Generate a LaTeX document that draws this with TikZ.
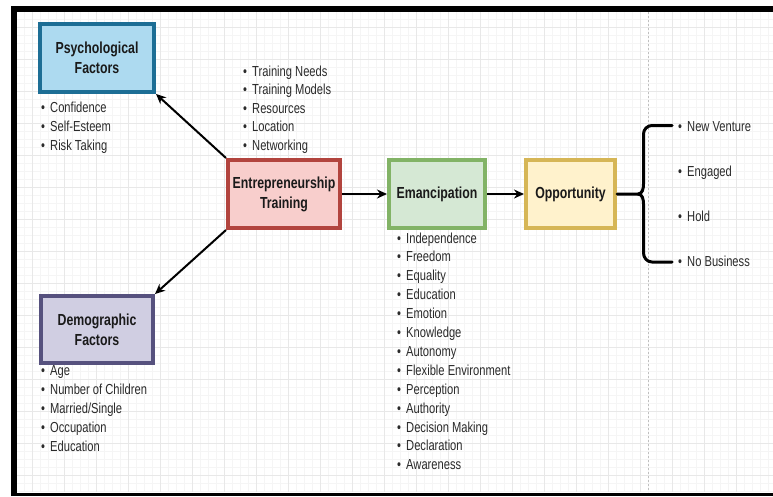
\documentclass[tikz,border=0pt]{standalone}
\usepackage{fontspec}
\setmainfont{Liberation Sans}[FakeStretch=0.77]
\usetikzlibrary{arrows.meta}
\definecolor{txt}{HTML}{2A2A2A}
\definecolor{lbl}{HTML}{1A1A1A}
\definecolor{psyD}{HTML}{1D6E95}\definecolor{psyF}{HTML}{ADDAF0}
\definecolor{demD}{HTML}{56517E}\definecolor{demF}{HTML}{D0CEE2}
\definecolor{entD}{HTML}{B2443E}\definecolor{entF}{HTML}{F8CECC}
\definecolor{emaD}{HTML}{82B366}\definecolor{emaF}{HTML}{D5E8D4}
\definecolor{oppD}{HTML}{D6B656}\definecolor{oppF}{HTML}{FFF2CC}
\tikzset{
  boxnode/.style={line width=4pt, align=center, inner sep=0pt, text=lbl,
    font=\fontsize{16}{20}\selectfont\bfseries},
  listitem/.style={anchor=base west, inner sep=0pt, text=txt, font=\fontsize{14.5}{18}\selectfont},
  conn/.style={line width=2pt, black, -{Stealth[length=10pt,width=9pt]}},
  bracepath/.style={line width=3pt, black, line cap=round, line join=round},
  minorgrid/.style={line width=0.4pt, black!4},
  majorgrid/.style={line width=0.8pt, black!9},
}
\newcommand{\blt}[1]{\makebox[9pt][l]{•}#1}
\begin{document}
\begin{tikzpicture}[x=1pt,y=-1pt]
\useasboundingbox (0,0) rectangle (773,496);
\fill[white] (-10,-10) rectangle (790,510);
% grid
\foreach \gx in {24,32,...,768} \draw[minorgrid] (\gx,12) -- (\gx,492);
\foreach \gy in {19,27,...,491} \draw[minorgrid] (17,\gy) -- (780,\gy);
\foreach \gx in {32,64,...,736} \draw[majorgrid] (\gx,12) -- (\gx,492);
\foreach \gy in {27,59,...,475} \draw[majorgrid] (17,\gy) -- (780,\gy);
\draw[black!25, line width=0.7pt, dash pattern=on 2pt off 2pt] (648,12) -- (648,492);
% frame
\draw[line width=6pt, black] (14,494) -- (14,8.5) -- (785,8.5);
\draw[line width=3pt, black] (11,494.5) -- (785,494.5);
% boxes
\node[boxnode, draw=psyD, fill=psyF, minimum width=114pt, minimum height=68pt] (psy) at (97,58) {Psychological\\Factors};
\node[boxnode, draw=demD, fill=demF, minimum width=112pt, minimum height=67pt] (dem) at (97,329.5) {Demographic\\Factors};
\node[boxnode, draw=entD, fill=entF, minimum width=112pt, minimum height=68pt] (ent) at (284,194) {Entrepreneurship\\Training};
\node[boxnode, draw=emaD, fill=emaF, minimum width=96pt, minimum height=68pt] (ema) at (437,194) {Emancipation};
\node[boxnode, draw=oppD, fill=oppF, minimum width=89pt, minimum height=68pt] (opp) at (570.5,194) {Opportunity};
% connectors
\draw[conn] (ent.north west) -- (psy.south east);
\draw[conn] (ent.south west) -- (dem.north east);
\draw[conn] (ent.east) -- (ema.west);
\draw[conn] (ema.east) -- (opp.west);
% brace
\coordinate (bmid) at (638,194);
\coordinate (btop) at (672,125.5);
\coordinate (bbot) at (672,262);
\draw[bracepath] (opp.east) -- (bmid) to[out=0,in=-90] (643.5,184) -- (643.5,134) to[out=90,in=180] (652,125.5) -- (btop);
\draw[bracepath] (bmid) to[out=0,in=90] (643.5,204) -- (643.5,253) to[out=-90,in=180] (652,262) -- (bbot);
% lists
\foreach \t [count=\i] in {Confidence,Self-Esteem,Risk Taking}
  \node[listitem] (pl\i) at (41,{112+19*(\i-1)}) {\blt{\t}};
\foreach \t [count=\i] in {Training Needs,Training Models,Resources,Location,Networking}
  \node[listitem] (tl\i) at (243,{76+18.6*(\i-1)}) {\blt{\t}};
\foreach \t [count=\i] in {Age,Number of Children,Married/Single,Occupation,Education}
  \node[listitem] (dl\i) at (41,{375+19*(\i-1)}) {\blt{\t}};
\foreach \t [count=\i] in {Independence,Freedom,Equality,Education,Emotion,Knowledge,Autonomy,Flexible Environment,Perception,Authority,Decision Making,Declaration,Awareness}
  \node[listitem] (el\i) at (397,{243+18.9*(\i-1)}) {\blt{\t}};
\foreach \t [count=\i] in {New Venture,Engaged,Hold,No Business}
  \node[listitem] (ol\i) at (678,{131+45.3*(\i-1)}) {\blt{\t}};
\end{tikzpicture}
\end{document}
